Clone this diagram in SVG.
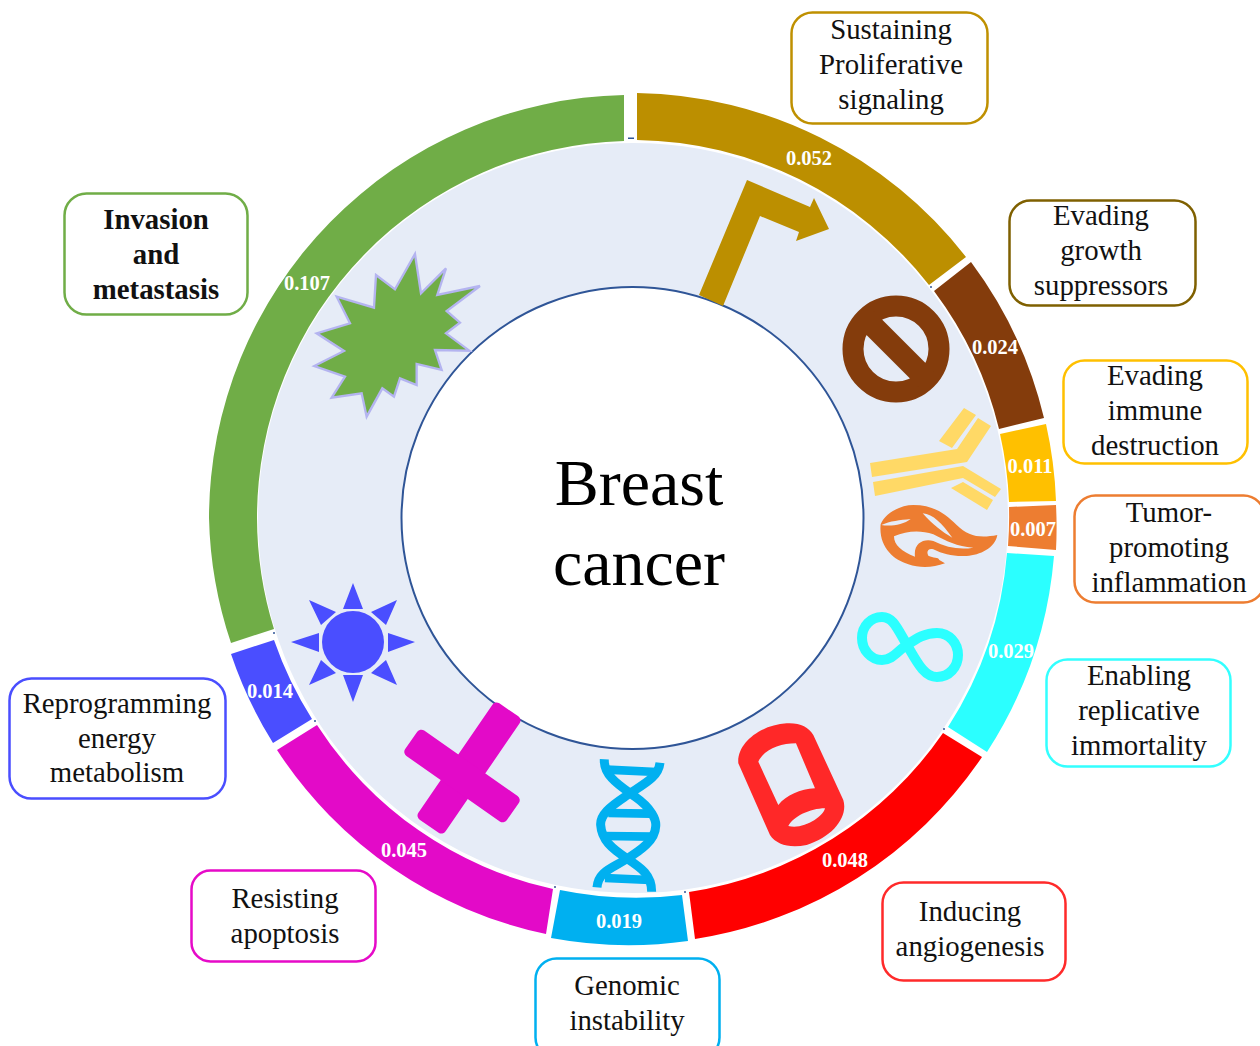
<svg xmlns="http://www.w3.org/2000/svg" width="1260" height="1046" viewBox="0 0 1260 1046">
<style>
.box{fill:#fff;stroke-width:2.500}
.lab{font-family:"Liberation Serif","Times New Roman",serif;font-size:28.800px;fill:#111;text-anchor:middle}
.val{font-family:"Liberation Serif","Times New Roman",serif;font-size:20.500px;font-weight:bold;fill:#fff;text-anchor:middle}
.title{font-family:"Liberation Serif","Times New Roman",serif;font-size:66px;fill:#000;text-anchor:middle}
</style>
<rect width="1260" height="1046" fill="#fff"/>
<g id="hub">
<circle cx="633" cy="518" r="376.500" fill="#E6ECF7" stroke="#fff" stroke-width="3"/>
<circle cx="632.500" cy="518" r="231" fill="#fff" stroke="#2F5597" stroke-width="2"/>
<g fill="#2F5597"><rect x="628" y="137.500" width="6" height="1.500"/><circle cx="931" cy="287" r="1"/><circle cx="944" cy="729" r="1"/><circle cx="685" cy="892" r="1"/><circle cx="555" cy="887" r="1"/><circle cx="315" cy="721" r="1"/><circle cx="274" cy="633" r="1"/></g>
<text class="title" x="639" y="505">Breast</text>
<text class="title" x="639" y="585">cancer</text>
</g>
<g id="sustaining-proliferative-signaling">
<path d="M637,93 A425,425 0 0 1 966,257 L929,285 A377,377 0 0 0 637,140Z" fill="#BC8F00"/>
<path d="M699,295 L747,180 L810,207 L814,198 L829,229 L796,241 L799,232 L760,216 L723,306Z" fill="#BC8F00"/>
<rect class="box" x="791.500" y="12.500" width="196" height="111" rx="21" stroke="#BF9000"/>
<text class="lab" x="891" y="39">Sustaining</text><text class="lab" x="891" y="74">Proliferative</text><text class="lab" x="891" y="109">signaling</text>
<text class="val" x="809" y="165">0.052</text>
</g>
<g id="evading-growth-suppressors">
<path d="M971,262 A425,425 0 0 1 1044,418 L999,429 A377,377 0 0 0 934,291Z" fill="#843C0C"/>
<circle cx="896" cy="349" r="43" fill="none" stroke="#843C0C" stroke-width="21"/>
<line x1="866" y1="319" x2="926" y2="379" stroke="#843C0C" stroke-width="22"/>
<rect class="box" x="1009.500" y="200.500" width="186" height="105" rx="21" stroke="#7F6000"/>
<text class="lab" x="1101" y="225">Evading</text><text class="lab" x="1101" y="260">growth</text><text class="lab" x="1101" y="295">suppressors</text>
<text class="val" x="995" y="354">0.024</text>
</g>
<g id="evading-immune-destruction">
<path d="M1046,424 A425,425 0 0 1 1056,501 L1009,502 A377,377 0 0 0 1000,434Z" fill="#FFC000"/>
<path d="M870,463 L957,449 L978,418 L991,426 L967,462 L872,477Z M964,408 L976,415 L952,448 L939,441Z M873,482 L963,466 L1001,489 L995,497 L963,478 L875,496Z M963,482 L993,500 L987,510 L951,488Z" fill="#FFD966"/>
<rect class="box" x="1063.500" y="360.500" width="184" height="103" rx="21" stroke="#FFC000"/>
<text class="lab" x="1155" y="385">Evading</text><text class="lab" x="1155" y="420">immune</text><text class="lab" x="1155" y="455">destruction</text>
<text class="val" x="1030" y="473">0.011</text>
</g>
<g id="tumor-promoting-inflammation">
<path d="M1056,505 A425,425 0 0 1 1056,550 L1008,546 A377,377 0 0 0 1009,507Z" fill="#ED7D31"/>
<path transform="translate(870,495) scale(.3333)" fill-rule="evenodd" fill="#ED7D31" d="M32,88 C45,55 90,30 130,30 C190,30 225,55 260,90 C295,125 330,130 382,120 C375,160 330,180 290,183 C250,185 220,178 190,163 C175,158 168,170 175,182 C190,190 205,185 208,195 L225,205 C190,218 150,220 115,208 C70,195 25,155 32,88Z M34,90 C60,78 90,75 122,72 C100,90 60,95 34,90Z M158,55 C190,58 215,85 247,128 C215,110 190,90 158,55Z M72,124 C110,108 150,105 190,118 C230,138 260,155 310,158 C270,165 230,158 190,138 C160,130 130,145 135,185 C95,170 72,150 72,124Z"/>
<rect class="box" x="1074.500" y="495.500" width="190" height="107" rx="21" stroke="#ED7D31"/>
<text class="lab" x="1169" y="522">Tumor-</text><text class="lab" x="1169" y="557">promoting</text><text class="lab" x="1169" y="592">inflammation</text>
<text class="val" x="1033" y="536">0.007</text>
</g>
<g id="enabling-replicative-immortality">
<path d="M1054,556 A425,425 0 0 1 987,752 L948,727 A377,377 0 0 0 1007,553Z" fill="#2BFFFF"/>
<path d="M907,645 C897,628 893,617 882,617 C871,617 862,626 862,638 C862,650 871,660 882,660 C893,660 898,650 907,645 C917,638 925,633 937,633 C949,633 958,643 958,655 C958,667 949,677 937,677 C924,677 917,662 907,645Z" fill="none" stroke="#2BFFFF" stroke-width="10"/>
<rect class="box" x="1046.500" y="659.500" width="184" height="107" rx="21" stroke="#33FFFF"/>
<text class="lab" x="1139" y="685">Enabling</text><text class="lab" x="1139" y="720">replicative</text><text class="lab" x="1139" y="755">immortality</text>
<text class="val" x="1011" y="658">0.029</text>
</g>
<g id="inducing-angiogenesis">
<path d="M982,757 A425,425 0 0 1 695,939 L689,892 A377,377 0 0 0 943,733Z" fill="#FF0000"/>
<path transform="translate(560,600) scale(.3333)" fill-rule="evenodd" fill="#FF2828" d="M535,490 C530,430 600,375 680,370 C720,368 745,380 760,405 L850,600 C865,650 820,710 740,735 C690,745 650,735 630,705Z M595,485 C610,450 660,430 708,430 L765,565 C720,568 680,585 655,615Z M685,678 C700,650 750,625 795,625 C790,650 730,690 685,678Z"/>
<rect class="box" x="882.500" y="882.500" width="183" height="98" rx="21" stroke="#FF2A2A"/>
<text class="lab" x="970" y="921">Inducing</text><text class="lab" x="970" y="956">angiogenesis</text>
<text class="val" x="845" y="867">0.048</text>
</g>
<g id="genomic-instability">
<path d="M688,941 A425,425 0 0 1 551,938 L560,890 A377,377 0 0 0 682,895Z" fill="#00B0F0"/>
<g transform="translate(585,750) scale(.3333)" fill="none" stroke="#00B0F0">
<path stroke-width="27" d="M58,28 C55,80 110,110 150,140 C200,175 215,210 212,230 C210,270 170,300 120,330 C80,355 40,365 36,412 M225,38 C220,85 170,105 120,140 C75,170 45,195 47,225 C50,270 80,295 125,325 C170,355 200,375 200,425"/>
<path stroke-width="26" d="M65,59 L215,66 M70,189 L195,191 M55,258 L205,260 M60,384 L195,390"/>
</g>
<rect class="box" x="535.500" y="958.500" width="184" height="100" rx="21" stroke="#00B0F0"/>
<text class="lab" x="627" y="995">Genomic</text><text class="lab" x="627" y="1030">instability</text>
<text class="val" x="619" y="928">0.019</text>
</g>
<g id="resisting-apoptosis">
<path d="M546,934 A425,425 0 0 1 277,750 L317,725 A377,377 0 0 0 553,889Z" fill="#E30AC8"/>
<rect x="452.500" y="697.500" width="33" height="141" rx="5" transform="rotate(34.400 469 768)" fill="#E30AC8"/>
<rect x="400" y="760.500" width="124" height="31" rx="5" transform="rotate(35 462 776)" fill="#E30AC8"/>
<rect class="box" x="191.500" y="870.500" width="184" height="91" rx="19" stroke="#E60AC8"/>
<text class="lab" x="285" y="908">Resisting</text><text class="lab" x="285" y="943">apoptosis</text>
<text class="val" x="404" y="857">0.045</text>
</g>
<g id="reprogramming-energy-metabolism">
<path d="M273,743 A425,425 0 0 1 231,654 L274,640 A377,377 0 0 0 312,719Z" fill="#4A4EFF"/>
<circle cx="353" cy="642" r="31" fill="#4A4EFF"/>
<path fill="#4A4EFF" d="M353,583 L343,609 L363,609Z M353,702 L343,675 L363,675Z M291,642 L319,633 L319,652Z M415,642 L388,633 L388,652Z M309,600 L336,612 L321,625Z M397,600 L371,612 L386,625Z M309,685 L321,660 L336,673Z M397,685 L386,660 L371,673Z"/>
<rect class="box" x="9.500" y="678.500" width="216" height="120" rx="22" stroke="#4A4EFF"/>
<text class="lab" x="117" y="713">Reprogramming</text><text class="lab" x="117" y="748">energy</text><text class="lab" x="117" y="782">metabolism</text>
<text class="val" x="270" y="698">0.014</text>
</g>
<g id="invasion-and-metastasis">
<path d="M231,643 A420,420 0 0 1 209,518 A424,424 0 0 1 624,95 L624,141 A377,377 0 0 0 257,518 A377,377 0 0 0 274,629Z" fill="#70AD47"/>
<path transform="translate(220,230) scale(.3333)" fill="#70AD47" stroke="#B4B4F0" stroke-width="7" d="M585,72 L603,190 L678,115 L652,195 L780,168 L680,243 L720,278 L678,310 L748,362 L645,360 L665,420 L590,402 L590,465 L540,445 L522,500 L487,475 L440,560 L425,490 L335,503 L375,440 L283,408 L372,363 L290,310 L390,280 L350,200 L462,233 L468,135 L525,178Z"/>
<rect class="box" x="64.500" y="193.500" width="183" height="121" rx="22" stroke="#70AD47"/>
<text class="lab" x="156" y="229" font-weight="bold">Invasion</text><text class="lab" x="156" y="264" font-weight="bold">and</text><text class="lab" x="156" y="299" font-weight="bold">metastasis</text>
<text class="val" x="307" y="290">0.107</text>
</g>
</svg>
